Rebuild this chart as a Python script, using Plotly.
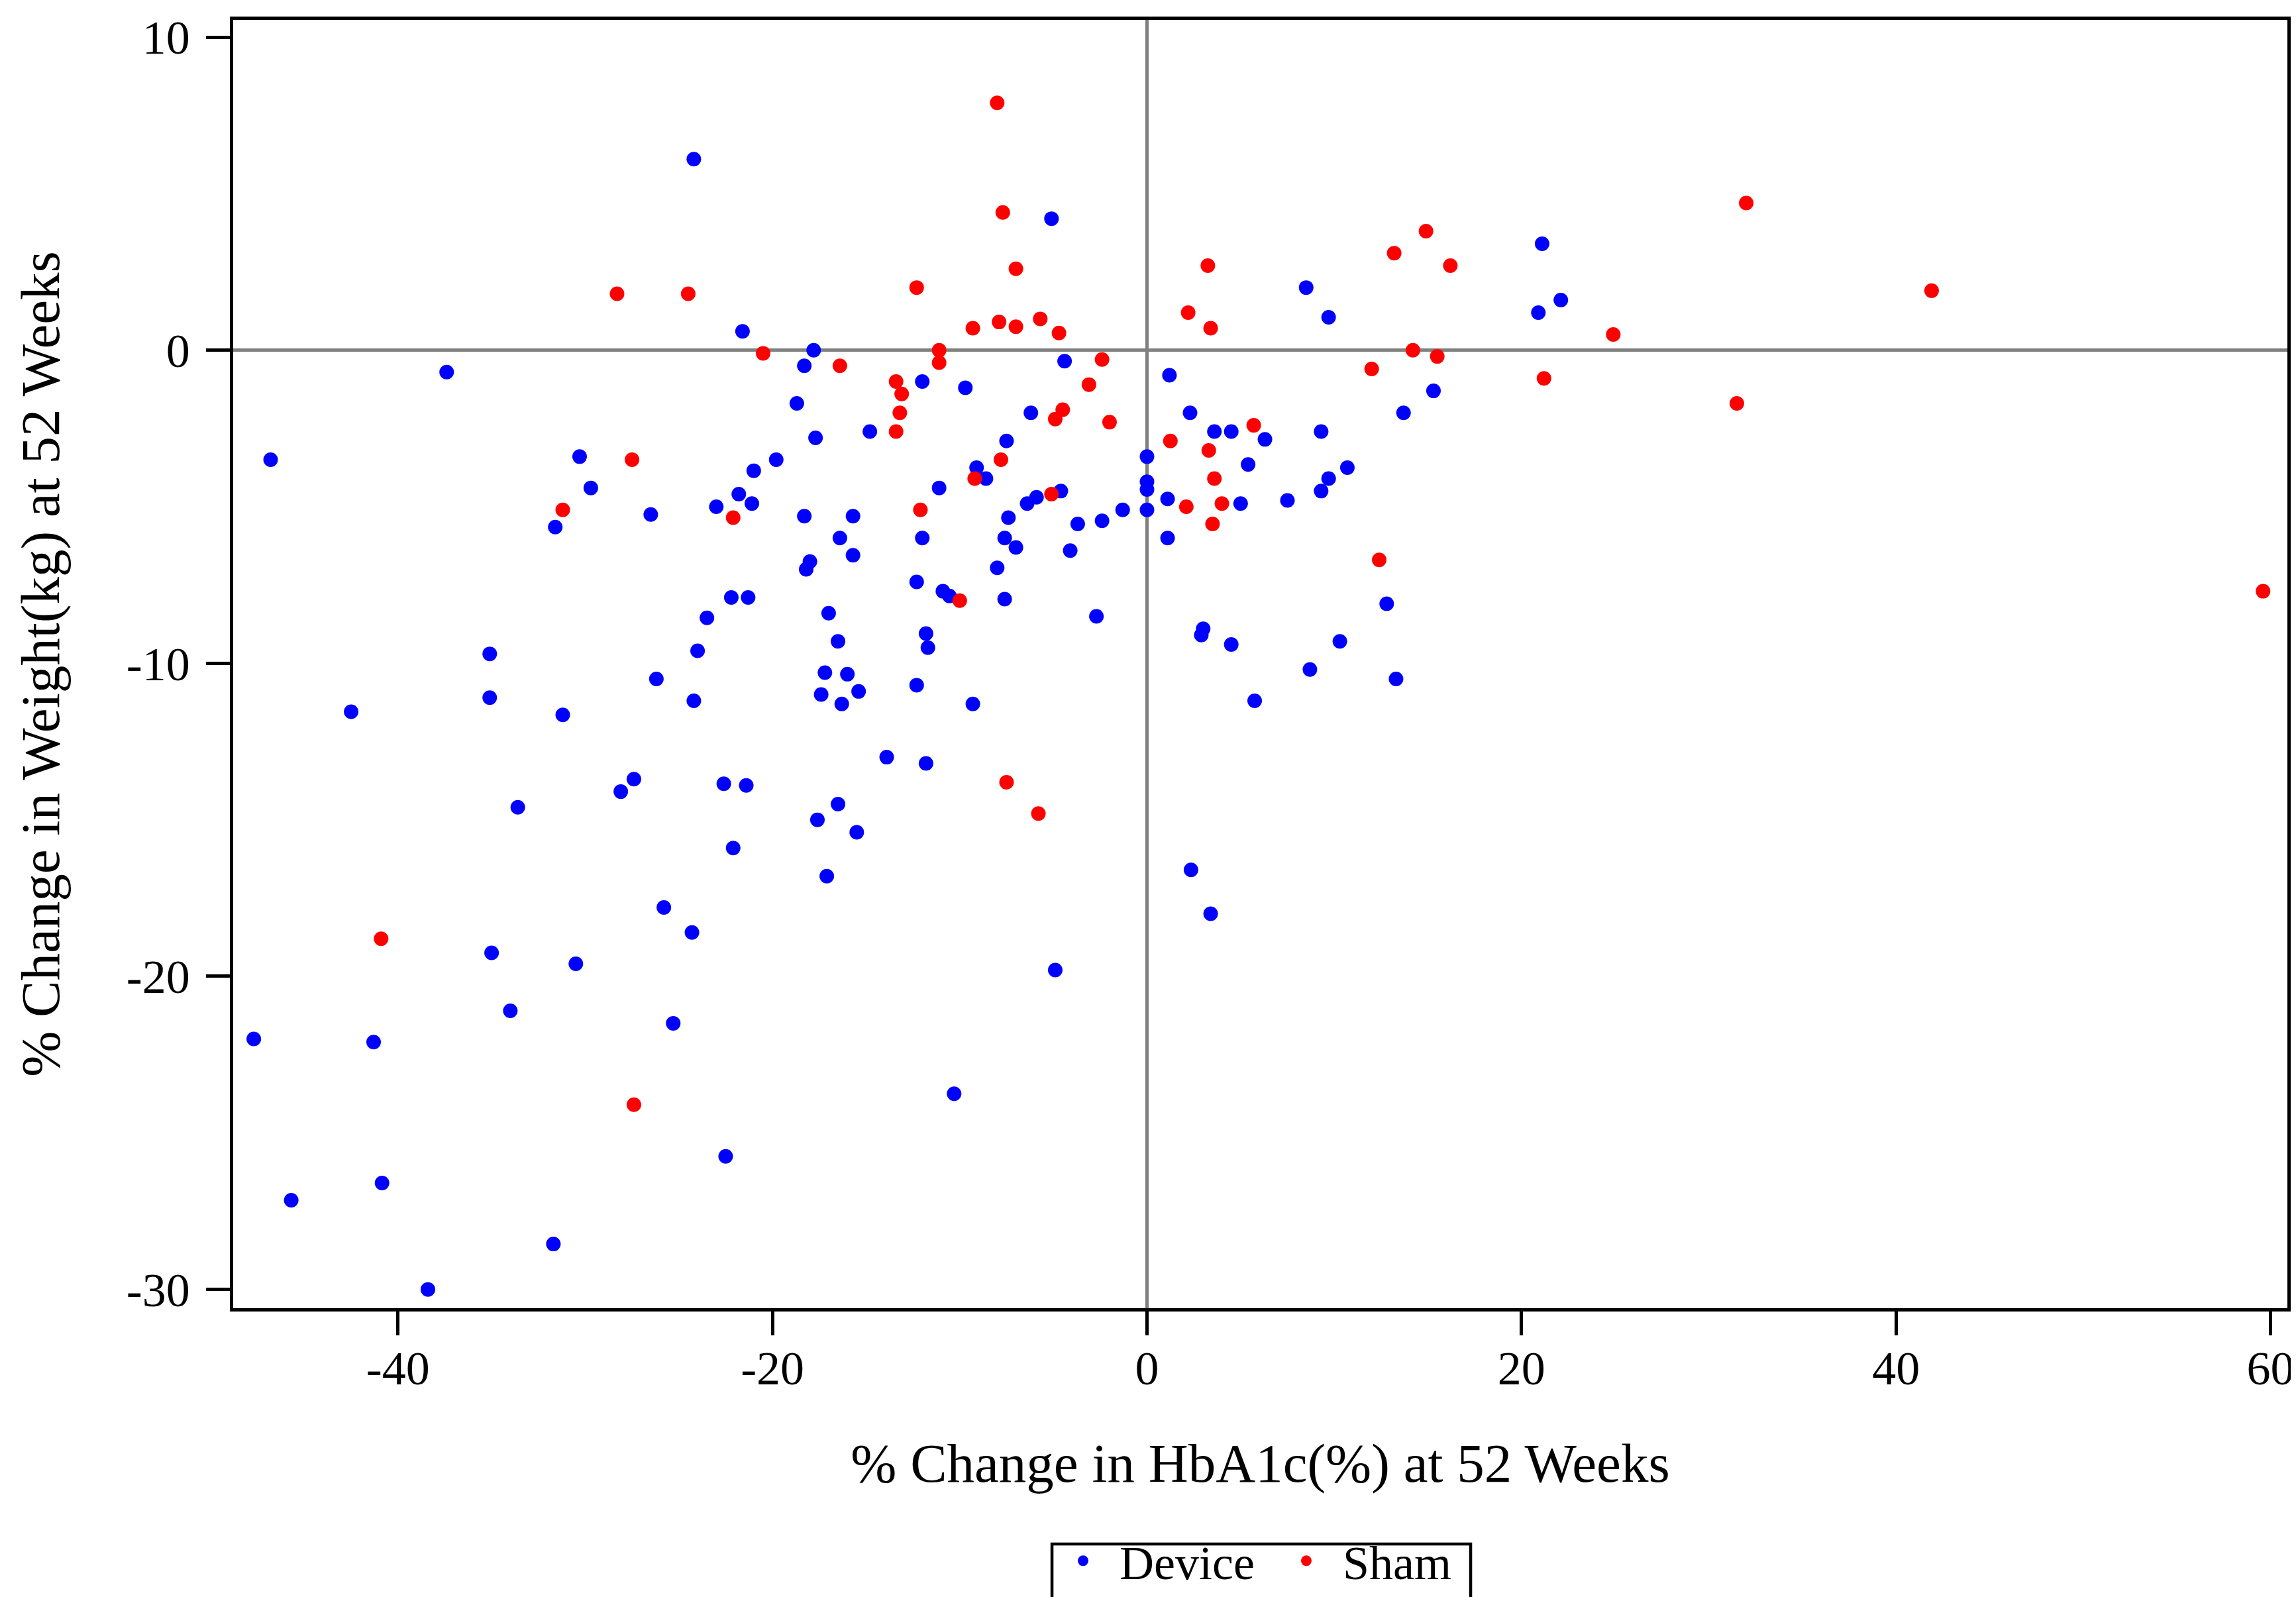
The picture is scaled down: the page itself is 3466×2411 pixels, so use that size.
import plotly.graph_objects as go

# Device (blue) points: % change HbA1c (x), % change weight (y)
device_x = [-24.2, -37.4, -46.8, -30.3, -5.1, -21.6, -17.8, -18.3, -4.4, 1.2,
            -12.0, -9.7, -18.7, -6.2, -14.8, -17.7, -7.5, 0.0, -19.8, -21.0,
            21.1, 8.5, 22.1, 9.7, 20.9, 15.3, 2.3, 13.7, 3.6, 4.5,
            6.3, 9.3, 5.4, 10.7, 9.7, 9.3, 0.0, 0.0, 0.0, 1.1,
            5.0, 7.5, 1.1, 12.8, 3.0, 2.9, 4.5, 10.3, 8.7, 13.3,
            5.75, 2.35, 3.4, -9.1, -8.6, -11.1, -21.8, -21.1, -23.0, -4.6,
            -5.9, -6.4, -1.3, -18.3, -15.7, -7.4, -2.4, -3.7, -16.4, -12.0,
            -7.6, -7.0, -4.1, -15.7, -18.0, -18.2, -8.0, -12.3, -10.9, -10.55,
            -7.6, -2.7, -22.2, -21.3, -23.5, -17.0, -24.0, -16.5, -11.8, -11.7,
            -17.2, -16.0, -12.3, -15.4, -17.4, -16.3, -24.2, -9.3, -13.9, -11.8,
            -22.6, -21.4, -16.5, -17.6, -15.5, -22.1, -17.1, -25.8, -24.3, -29.7,
            -26.5, -31.6, -35.1, -26.2, -35.1, -42.5, -31.2, -27.4, -28.1, -33.6,
            -35.0, -30.5, -34.0, -25.3, -47.7, -41.3, -22.5, -40.85, -45.7, -31.7,
            -38.4, -4.9, -10.3]
device_y = [6.1, -0.7, -3.5, -3.4, 4.2, 0.6, 0.0, -0.5, -0.35, -0.8,
            -1.0, -1.2, -1.7, -2.0, -2.6, -2.8, -2.9, -3.4, -3.5, -3.85,
            3.4, 2.0, 1.6, 1.05, 1.2, -1.3, -2.0, -2.0, -2.6, -2.6,
            -2.85, -2.6, -3.65, -3.75, -4.1, -4.5, -4.2, -4.45, -5.1, -4.75,
            -4.9, -4.8, -6.0, -8.1, -8.9, -9.1, -9.4, -9.3, -10.2, -10.5,
            -11.2, -16.6, -18.0, -3.75, -4.1, -4.4, -4.6, -4.9, -5.0, -4.5,
            -4.7, -4.9, -5.1, -5.3, -5.3, -5.35, -5.45, -5.55, -6.0, -6.0,
            -6.0, -6.3, -6.4, -6.55, -6.75, -7.0, -6.95, -7.4, -7.7, -7.85,
            -7.95, -8.5, -7.9, -7.9, -8.55, -8.4, -9.6, -9.3, -9.05, -9.5,
            -10.3, -10.35, -10.7, -10.9, -11.0, -11.3, -11.2, -11.3, -13.0, -13.2,
            -13.85, -13.9, -14.5, -15.0, -15.4, -15.9, -16.8, -17.8, -18.6, -4.4,
            -5.25, -5.65, -9.7, -10.5, -11.1, -11.55, -11.65, -13.7, -14.1, -14.6,
            -19.25, -19.6, -21.1, -21.5, -22.0, -22.1, -25.75, -26.6, -27.15, -28.55,
            -30.0, -19.8, -23.75]

# Sham (red) points
sham_x = [-28.3, -24.5, -27.5, -8.0, -7.7, -7.0, -12.3, -9.3, -7.9, -7.0,
          -5.7, -4.7, -20.5, -11.1, -11.1, -16.4, -2.4, -13.4, -13.1, -3.1,
          -13.2, -4.5, -4.9, -2.0, -13.4, -7.8, 1.25, 14.9, 13.2, 3.25,
          16.2, 2.2, 3.4, 24.9, 14.2, 15.5, 12.0, 21.2, 5.7, 3.3,
          3.6, 2.1, 4.0, 3.5, 12.4, -9.2, -22.1, -5.1, -12.1, -10.0,
          -7.5, -5.8, -31.2, -40.9, -27.4, 32.0, 41.9, 31.5, 59.6]
sham_y = [1.8, 1.8, -3.5, 7.9, 4.4, 2.6, 2.0, 0.7, 0.9, 0.75,
          1.0, 0.55, -0.1, 0.0, -0.4, -0.5, -0.3, -1.0, -1.4, -1.1,
          -2.0, -1.9, -2.2, -2.3, -2.6, -3.5, -2.9, 3.8, 3.1, 2.7,
          2.7, 1.2, 0.7, 0.5, 0.0, -0.2, -0.6, -0.9, -2.4, -3.2,
          -4.1, -5.0, -4.9, -5.55, -6.7, -4.1, -5.35, -4.6, -5.1, -8.0,
          -13.8, -14.8, -5.1, -18.8, -24.1, 4.7, 1.9, -1.7, -7.7]

x_ticks = [-40, -20, 0, 20, 40, 60]
x_ticktext = ["-40", "-20", "0", "20", "40", "60"]
y_ticks = [-30, -20, -10, 0, 10]
y_ticktext = ["-30", "-20", "-10", "0", "10"]

FONT = "Liberation Serif, Times New Roman, serif"
MS = 22

fig = go.Figure()
fig.add_trace(go.Scatter(x=device_x, y=device_y, mode="markers", name="Device",
                         marker=dict(color="#0000FF", size=MS, line=dict(width=0))))
fig.add_trace(go.Scatter(x=sham_x, y=sham_y, mode="markers", name="Sham",
                         marker=dict(color="#FF0000", size=MS, line=dict(width=0))))

axis_common = dict(showgrid=False, showline=True, linecolor="black", linewidth=4.5,
                   mirror=True, ticks="outside", ticklen=36, tickwidth=4.5,
                   tickcolor="black", zeroline=True, zerolinecolor="#808080",
                   zerolinewidth=4.5, tickfont=dict(family=FONT, size=72, color="black"))

fig.update_layout(
    width=3466, height=2411,
    margin=dict(l=344, r=21, t=22, b=444, autoexpand=False),
    paper_bgcolor="white", plot_bgcolor="white",
    font=dict(family=FONT, color="black"),
    xaxis=dict(range=[-48.8, 60.9], tickvals=x_ticks, ticktext=x_ticktext,
               title=dict(text="% Change in HbA1c(%) at 52 Weeks",
                          font=dict(family=FONT, size=83), standoff=75),
               ticklabelstandoff=-12, **axis_common),
    yaxis=dict(range=[-30.6, 10.55], tickvals=y_ticks, ticktext=y_ticktext,
               title=dict(text="% Change in Weight(kg) at 52 Weeks",
                          font=dict(family=FONT, size=83), standoff=75),
               ticklabelstandoff=10, **axis_common),
    showlegend=True,
    legend=dict(orientation="h", x=0.396, xanchor="left", y=-0.1686, yanchor="top",
                borderwidth=0, bgcolor="rgba(0,0,0,0)",
                itemwidth=100, entrywidth=222, entrywidthmode="pixels",
                font=dict(family=FONT, size=72, color="black")),
    shapes=[dict(type="rect", xref="paper", yref="paper",
                 x0=0.3986, x1=0.6024, y0=-0.2432, y1=-0.1830,
                 line=dict(color="black", width=4.5), fillcolor="rgba(0,0,0,0)",
                 layer="above")],
)

fig.write_html("out.html")
